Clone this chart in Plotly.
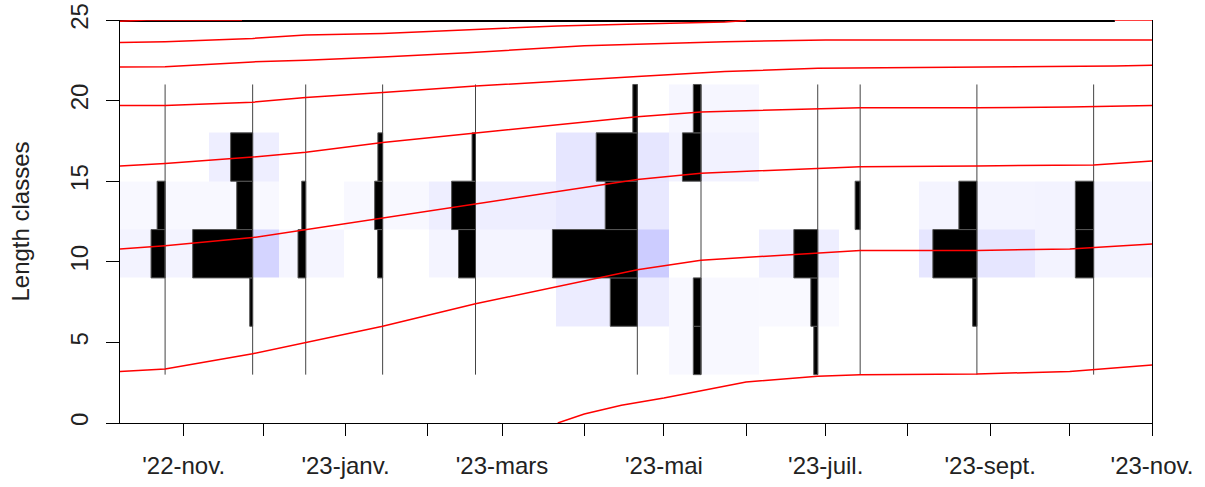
import pandas as pd
import plotly.graph_objects as go

# ---------------- data ----------------
sample_dates = ['2022-10-25', '2022-11-27', '2022-12-17', '2023-01-15', '2023-02-19',
                '2023-04-21', '2023-05-15', '2023-06-28', '2023-07-14', '2023-08-27',
                '2023-10-10']
class_edges = [3, 6, 9, 12, 15, 18, 21]
class_mids = [4.5, 7.5, 10.5, 13.5, 16.5, 19.5]

# bar lengths (frequency, expressed in days of the time axis) per sample, per length class
freq = [
    [0, 0, 5.3, 3.0, 0, 0],
    [0, 1.1, 22.6, 6.0, 8.3, 0],
    [0, 0, 2.9, 1.5, 0, 0],
    [0, 0, 1.9, 3.0, 1.8, 0],
    [0, 0, 6.4, 9.0, 1.3, 0],
    [0, 10.2, 32.0, 12.1, 15.5, 1.7],
    [2.9, 2.9, 0, 0, 7.0, 2.9],
    [1.5, 2.6, 9.0, 0, 0, 0],
    [0, 0, 0, 1.9, 0, 0],
    [0, 1.6, 16.6, 6.8, 0, 0],
    [0, 0, 6.9, 6.9, 0, 0],
]

# background shading intensity (restructured scores) per sample, per length class
shade = [
    [0, 0, 0.24, 0.14, 0, 0],
    [0, 0, 0.84, 0.14, 0.33, 0],
    [0, 0, 0.20, 0, 0, 0],
    [0, 0, 0, 0.14, 0, 0],
    [0, 0, 0.22, 0.33, 0, 0],
    [0, 0.37, 1.0, 0.45, 0.50, 0],
    [0.14, 0.14, 0, 0, 0.25, 0.17],
    [0, 0.12, 0.33, 0, 0, 0],
    [0, 0, 0, 0, 0, 0],
    [0, 0, 0.50, 0.22, 0, 0],
    [0, 0, 0.24, 0.24, 0, 0],
]

x_start = '2022-10-08'
x_end = '2023-11-01'

# growth curves (length read at dates)
curves = {
    'A': (['2022-10-08', '2022-10-25', '2022-11-27', '2022-12-17', '2023-01-15', '2023-02-19',
           '2023-04-21', '2023-05-15', '2023-06-28', '2023-07-14', '2023-08-27', '2023-10-01', '2023-11-01'],
          [3.2, 3.35, 4.3, 5.0, 6.0, 7.4, 9.5, 10.1, 10.55, 10.7, 10.7, 10.8, 11.1]),
    'B': (['2022-10-08', '2022-10-25', '2022-11-27', '2022-12-17', '2023-01-15', '2023-02-19',
           '2023-04-21', '2023-05-15', '2023-06-28', '2023-07-14', '2023-08-27', '2023-10-10', '2023-11-01'],
          [10.8, 11.0, 11.5, 12.0, 12.7, 13.6, 15.1, 15.5, 15.8, 15.9, 15.95, 16.0, 16.25]),
    'C': (['2022-10-08', '2022-10-25', '2022-11-27', '2022-12-17', '2023-01-15', '2023-02-19',
           '2023-04-21', '2023-05-15', '2023-06-28', '2023-07-14', '2023-08-27', '2023-10-01', '2023-11-01'],
          [15.95, 16.1, 16.5, 16.8, 17.4, 18.0, 19.0, 19.3, 19.5, 19.55, 19.55, 19.6, 19.7]),
    'D': (['2022-10-08', '2022-10-25', '2022-11-27', '2022-12-17', '2023-01-15', '2023-02-19',
           '2023-04-21', '2023-05-24', '2023-06-28', '2023-09-10', '2023-10-18', '2023-11-01'],
          [19.7, 19.7, 19.9, 20.2, 20.5, 20.9, 21.5, 21.8, 22.0, 22.07, 22.15, 22.2]),
    'E': (['2022-10-08', '2022-10-25', '2022-11-27', '2022-12-17', '2023-01-15', '2023-02-16',
           '2023-04-01', '2023-05-01', '2023-05-24', '2023-07-01', '2023-11-01'],
          [22.08, 22.1, 22.4, 22.5, 22.7, 22.97, 23.4, 23.55, 23.65, 23.76, 23.76]),
    'F': (['2022-10-08', '2022-10-25', '2022-11-27', '2022-12-17', '2023-01-15', '2023-02-16',
           '2023-03-22', '2023-04-21', '2023-05-24', '2023-06-01'],
          [23.6, 23.65, 23.86, 24.07, 24.17, 24.38, 24.63, 24.75, 24.88, 24.97]),
    'G': (['2022-10-08', '2022-10-18', '2022-11-23'],
          [24.92, 25.0, 25.0]),
    'G2': (['2023-10-18', '2023-11-01'],
           [25.0, 25.0]),
    'H': (['2023-03-22', '2023-04-01', '2023-04-15', '2023-05-01', '2023-06-01', '2023-06-28',
           '2023-07-14', '2023-08-27', '2023-10-01', '2023-11-01'],
          [0.0, 0.56, 1.1, 1.55, 2.55, 2.9, 3.0, 3.04, 3.2, 3.6]),
}
top_line = (['2022-10-08', '2023-10-18'], [25, 25])

month_ticks = ['2022-11-01', '2022-12-01', '2023-01-01', '2023-02-01', '2023-03-01', '2023-04-01',
               '2023-05-01', '2023-06-01', '2023-07-01', '2023-08-01', '2023-09-01', '2023-10-01',
               '2023-11-01']
month_labels = ["'22-nov.", "", "'23-janv.", "", "'23-mars", "", "'23-mai", "", "'23-juil.", "",
                "'23-sept.", "", "'23-nov."]
y_ticks = [0, 5, 10, 15, 20, 25]

# ---------------- figure ----------------
FONT = 'Liberation Sans, Arial, sans-serif'
fig = go.Figure()

sd = pd.to_datetime(sample_dates)
mids = [sd[i] + (sd[i + 1] - sd[i]) / 2 for i in range(len(sd) - 1)]
x_edges = [pd.Timestamp(x_start)] + mids + [pd.Timestamp(x_end)]

z = [[(shade[s][b] if shade[s][b] > 0 else None) for s in range(len(sample_dates))]
     for b in range(len(class_mids))]
fig.add_trace(go.Heatmap(
    x=x_edges, y=class_edges, z=z, zmin=0, zmax=1,
    colorscale=[[0, '#ffffff'], [1, '#ccccff']], showscale=False, hoverinfo='skip'))

# bars
bx, bbase, by = [], [], []
for s, d in enumerate(sd):
    for b, v in enumerate(freq[s]):
        if v > 0:
            td = pd.Timedelta(days=v)
            bbase.append(d - td)
            bx.append(td.total_seconds() * 1000)
            by.append(class_mids[b])
fig.add_trace(go.Bar(x=bx, base=bbase, y=by, orientation='h', width=3,
                     marker=dict(color='black', line=dict(color='#555555', width=1)),
                     hoverinfo='skip'))

# sample lines
lx, ly = [], []
for d in sd:
    lx += [d, d, None]
    ly += [class_edges[0], class_edges[-1], None]
fig.add_trace(go.Scatter(x=lx, y=ly, mode='lines', line=dict(color='#444444', width=1),
                         hoverinfo='skip'))

fig.add_trace(go.Scatter(x=top_line[0], y=top_line[1], mode='lines',
                         line=dict(color='black', width=4), hoverinfo='skip'))

for k, (dx, vy) in curves.items():
    fig.add_trace(go.Scatter(x=dx, y=vy, mode='lines',
                             line=dict(color='#ff0000', width=1.5), hoverinfo='skip'))

fig.update_layout(
    width=1205, height=487, margin=dict(l=120, r=53, t=20, b=64),
    paper_bgcolor='white', plot_bgcolor='white', showlegend=False, barmode='overlay',
    font=dict(family=FONT, size=24, color='#222222'),
)
fig.update_xaxes(type='date', range=[x_start, x_end], tickmode='array', tickvals=month_ticks,
                 ticktext=month_labels, ticks='outside', ticklen=12, tickcolor='black',
                 showline=True, linecolor='black', linewidth=1, showgrid=False, zeroline=False,
                 ticklabelstandoff=9, tickangle=0, automargin=False, ticklabeloverflow='allow')
fig.update_yaxes(range=[0, 25], tickmode='array', tickvals=y_ticks, ticks='outside', ticklen=13,
                 tickcolor='black', tickangle=-90, showline=True, linecolor='black', linewidth=1,
                 mirror=True, showgrid=False, zeroline=False, ticklabelstandoff=8,
                 automargin=False, ticklabeloverflow='allow',
                 title=dict(text='Length classes', standoff=30, font=dict(size=24)))

fig.write_html('out.html', config={'displayModeBar': False},
               post_script="document.body.style.margin='0';document.body.style.overflow='hidden';")
